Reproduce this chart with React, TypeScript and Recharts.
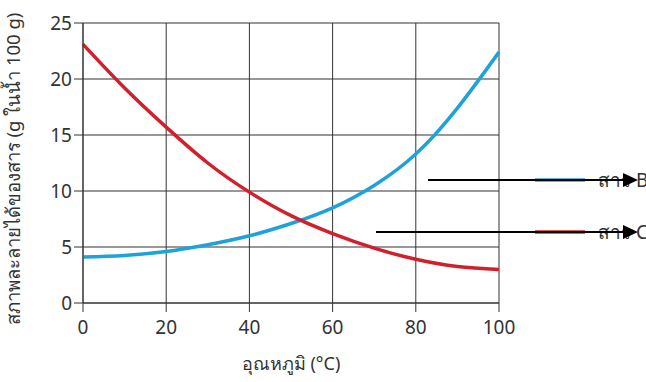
import { LineChart, Line, XAxis, YAxis, CartesianGrid } from "recharts"

// temperature (°C) and solubility (g per 100 g water)
const temps = [0, 10, 20, 30, 40, 50, 60, 70, 80, 90, 100]
const solB = [4.1, 4.25, 4.6, 5.2, 6.0, 7.1, 8.5, 10.5, 13.3, 17.4, 22.4]
const solC = [23.1, 19.2, 15.7, 12.5, 9.9, 7.8, 6.2, 4.9, 3.9, 3.25, 3.0]

const xTicks = [0, 20, 40, 60, 80, 100]
const yTicks = [0, 5, 10, 15, 20, 25]

const seriesNames = ["สาร B", "สาร C"]
const xLabel = "อุณหภูมิ (°C)"
const yLabel = "สภาพละลายได้ของสาร (g ในน้ำ 100 g)"

const BLUE = "#1ea2da"
const RED = "#d21f2c"
const FONT = "'Noto Sans', 'DejaVu Sans', sans-serif"

export default function App() {
  const data = temps.map((t, i) => ({ temp: t, b: solB[i], c: solC[i] }))
  const tickStyle = { fill: "#333", fontSize: 19, fontFamily: FONT }

  return (
    <div style={{ position: "absolute", left: 0, top: 0, width: 646, height: 382, background: "#fff" }}>
      <LineChart width={646} height={382} data={data} margin={{ top: 23, right: 147, left: 0, bottom: 0 }}>
        <CartesianGrid stroke="#333" strokeWidth={1} />
        <XAxis
          dataKey="temp"
          type="number"
          domain={[0, 100]}
          ticks={xTicks}
          height={79}
          tickSize={9}
          tickMargin={9}
          stroke="#333"
          tick={tickStyle}
          label={{ value: xLabel, position: "insideBottom", offset: 12, fill: "#333", fontSize: 18, fontFamily: FONT }}
        />
        <YAxis
          type="number"
          domain={[0, 25]}
          ticks={yTicks}
          width={83}
          tickSize={9}
          tickMargin={2}
          stroke="#333"
          tick={tickStyle}
          label={{ value: yLabel, angle: -90, position: "insideLeft", offset: 13, dy: 6, fill: "#333", fontSize: 18.5, fontFamily: FONT, style: { textAnchor: "middle" } }}
        />
        <Line type="natural" dataKey="b" stroke={BLUE} strokeWidth={3.5} dot={false} isAnimationActive={false} />
        <Line type="natural" dataKey="c" stroke={RED} strokeWidth={3.5} dot={false} isAnimationActive={false} />
      </LineChart>
      <svg width={646} height={382} style={{ position: "absolute", left: 0, top: 0, pointerEvents: "none" }}>
        {/* legend keys */}
        <line x1={535} y1={180} x2={585} y2={180} stroke={BLUE} strokeWidth={3.5} />
        <line x1={535} y1={232} x2={585} y2={232} stroke={RED} strokeWidth={3.5} />
        <text x={598} y={187} fill="#333" fontSize={19} fontFamily={FONT}>{seriesNames[0]}</text>
        <text x={598} y={239} fill="#333" fontSize={19} fontFamily={FONT}>{seriesNames[1]}</text>
        {/* pointer arrows */}
        <line x1={428} y1={180} x2={626} y2={180} stroke="#000" strokeWidth={2} />
        <polygon points="623,173 638,180 623,187" fill="#000" />
        <line x1={376} y1={232} x2={626} y2={232} stroke="#000" strokeWidth={2} />
        <polygon points="623,225 638,232 623,239" fill="#000" />
      </svg>
    </div>
  )
}
